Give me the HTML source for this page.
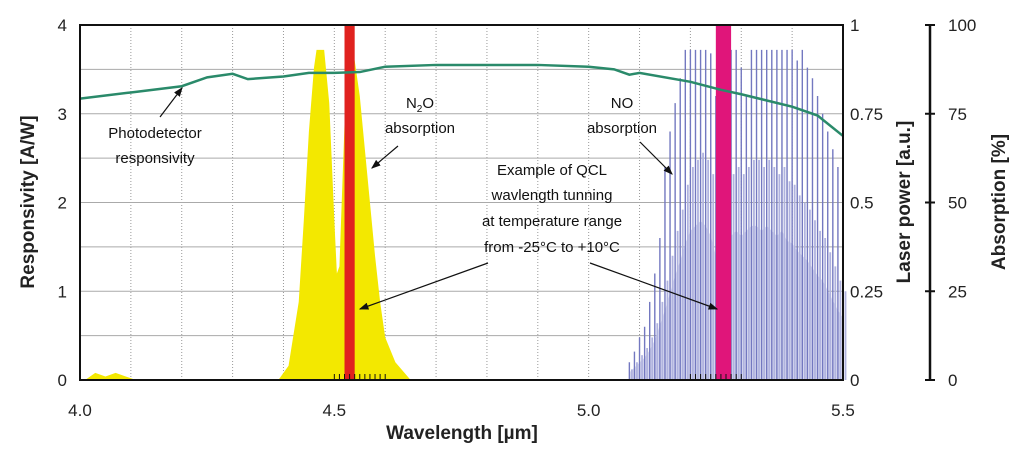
<!DOCTYPE html>
<html><head><meta charset="utf-8"><style>
html,body{margin:0;padding:0;background:#fff;}
svg{display:block;font-family:"Liberation Sans",Arial,sans-serif;}
</style></head><body>
<svg id="chart" width="1024" height="453" viewBox="0 0 1024 453">
<g id="grid"></g>
<g id="marks"></g>
<g id="axes"></g>
<g id="notes" font-size="15" fill="#111" text-anchor="middle">
  <text x="155" y="138">Photodetector</text>
  <text x="155" y="163">responsivity</text>
  <text x="420" y="108">N<tspan font-size="10" dy="4">2</tspan><tspan dy="-4">O</tspan></text>
  <text x="420" y="133">absorption</text>
  <text x="622" y="108">NO</text>
  <text x="622" y="133">absorption</text>
  <text x="552" y="175">Example of QCL</text>
  <text x="552" y="200">wavlength tunning</text>
  <text x="552" y="226">at temperature range</text>
  <text x="552" y="252">from -25°C to +10°C</text>
</g>
</svg>
<script>
const respWl = [4.0,4.1,4.2,4.25,4.3,4.33,4.4,4.45,4.5,4.55,4.6,4.7,4.8,4.9,5.0,5.05,5.08,5.1,5.2,5.26,5.3,5.4,5.45,5.5];
const respVal = [3.17,3.24,3.31,3.41,3.45,3.39,3.42,3.46,3.46,3.47,3.53,3.55,3.55,3.55,3.53,3.5,3.44,3.46,3.36,3.27,3.22,3.08,2.98,2.75];
const n2oWl = [4.39,4.41,4.43,4.44,4.45,4.46,4.465,4.48,4.49,4.50,4.505,4.51,4.52,4.525,4.54,4.55,4.56,4.57,4.58,4.59,4.60,4.62,4.65];
const n2oAbs = [0,4,22,45,70,88,93,93,78,45,30,32,72,93,90,80,65,50,35,22,12,5,0];
const n2oSmallWl = [4.01,4.03,4.05,4.07,4.09,4.11];
const n2oSmallAbs = [0,2,1,2,1,0];
const noStart = 5.08, noStep = 0.01;
const noAbs = [5,8,12,15,22,30,40,60,70,78,85,93,93,93,93,93,92,80,70,60,93,93,88,80,93,93,93,93,93,93,93,93,93,90,93,88,85,80,75,70,65,60,55];
const noMinor = [3,5,7,9,12,16,22,28,35,42,48,55,60,62,64,62,58,50,45,50,58,60,58,60,62,62,60,62,60,58,60,56,55,52,50,48,45,42,40,36,32,28,25];
const xTicks = [4.0,4.5,5.0,5.5];
const xTickLabels = ["4.0","4.5","5.0","5.5"];
const yTicks = [0,1,2,3,4];
const powTicks = ["0","0.25","0.5","0.75","1"];
const absTicks = [0,25,50,75,100];
const laserBands = [[4.52,4.54,"#e0221f"],[5.25,5.28,"#e0157a"]];

const L=80,R=843,T=25,B=380;
const NS="http://www.w3.org/2000/svg";
const xs=w=>L+(w-4.0)/1.5*(R-L);
const yr=v=>B-v/4*(B-T);
const ya=v=>B-v/100*(B-T);
function mk(p,tag,at){const e=document.createElementNS(NS,tag);for(const k in at)e.setAttribute(k,at[k]);p.appendChild(e);return e;}
const grid=document.getElementById('grid'),marks=document.getElementById('marks'),axes=document.getElementById('axes');

for(let i=1;i<15;i++){const x=xs(4+i*0.1);const g=mk(grid,'line',{x1:x,y1:T,x2:x,y2:B,stroke:'#999','stroke-width':1,'stroke-dasharray':'1,2'});

}
for(let i=1;i<8;i++){const y=yr(i*0.5);const g=mk(grid,'line',{x1:L,y1:y,x2:R,y2:y,stroke:'#aaa','stroke-width':1});

}

function poly(wl,ab,fill,name){let d='M'+xs(wl[0])+','+ya(0);wl.forEach((w,i)=>d+=' L'+xs(w)+','+ya(ab[i]));d+=' L'+xs(wl[wl.length-1])+','+ya(0)+'Z';
const p=mk(marks,'path',{d:d,fill:fill});

}
poly(n2oWl,n2oAbs,'#f3e800','n2o-absorption');
poly(n2oSmallWl,n2oSmallAbs,'#f3e800','n2o-absorption-small');

let env='M'+xs(noStart)+','+ya(0);
noMinor.forEach((v,i)=>env+=' L'+xs(noStart+i*noStep)+','+ya(v*0.7));
env+=' L'+xs(noStart+(noMinor.length-1)*noStep)+','+ya(0)+'Z';
const ep=mk(marks,'path',{d:env,fill:'#d8daf0'});


noMinor.forEach((v,i)=>{const x=xs(noStart+i*noStep)+2.5;
const l2=mk(marks,'line',{x1:x,y1:ya(0),x2:x,y2:ya(v),stroke:'#b0b3df','stroke-width':1.8});

});
noAbs.forEach((v,i)=>{const x=xs(noStart+i*noStep);
const l=mk(marks,'line',{x1:x,y1:ya(0),x2:x,y2:ya(v),stroke:'#7378c0','stroke-width':1.4});

});

laserBands.forEach(b=>{const r=mk(marks,'rect',{x:xs(b[0]),y:T,width:xs(b[1])-xs(b[0]),height:B-T,fill:b[2]});

});

let d='';respWl.forEach((w,i)=>d+=(i?' L':'M')+xs(w)+','+yr(respVal[i]));
const rp=mk(marks,'path',{d:d,fill:'none',stroke:'#2a8a6a','stroke-width':2.5});



for(let i=0;i<=10;i++){[4.5,5.2].forEach(s=>{const x=xs(s+i*0.01);const t=mk(axes,'line',{x1:x,y1:B-6,x2:x,y2:B,stroke:'#111','stroke-width':1});

});}

const frame=mk(axes,'rect',{x:L,y:T,width:R-L,height:B-T,fill:'none',stroke:'#111','stroke-width':2});



xTicks.forEach((t,i)=>{const e=mk(axes,'text',{x:xs(t),y:416,'font-size':17,'text-anchor':'middle',fill:'#222'});e.textContent=xTickLabels[i];

});
yTicks.forEach(t=>{const e=mk(axes,'text',{x:67,y:yr(t)+6,'font-size':17,'text-anchor':'end',fill:'#222'});e.textContent=t;

});
powTicks.forEach((t,i)=>{const e=mk(axes,'text',{x:850,y:B-i*(B-T)/4+6,'font-size':17,fill:'#222'});e.textContent=t;

});
const ax2=mk(axes,'line',{x1:930,y1:T,x2:930,y2:B,stroke:'#111','stroke-width':2.5});


absTicks.forEach(t=>{const y=ya(t);const tk=mk(axes,'line',{x1:925,y1:y,x2:935,y2:y,stroke:'#111','stroke-width':2});


const e=mk(axes,'text',{x:948,y:y+6,'font-size':17,fill:'#222'});e.textContent=t;

});

function title(txt,x,y,rot,name){const e=mk(axes,'text',{x:x,y:y,'font-size':19,'font-weight':'bold','text-anchor':'middle',fill:'#222',transform:rot?`rotate(-90 ${x} ${y})`:''});e.textContent=txt;

}
title('Wavelength [µm]',462,439,false,'x-axis-title');
title('Responsivity [A/W]',34,202,true,'y-axis-title');
title('Laser power [a.u.]',910,202,true,'laser-power-axis-title');
title('Absorption [%]',1005,202,true,'absorption-axis-title');

const notes=document.getElementById('notes');
const defs=mk(document.getElementById('chart'),'defs',{});
const m=mk(defs,'marker',{id:'ah',markerWidth:8,markerHeight:8,refX:7,refY:4,orient:'auto'});
mk(m,'path',{d:'M0,1 L8,4 L0,7 Z',fill:'#111'});
[[160,117,182,88],[398,146,372,168],[640,142,672,174],[488,263,360,309],[590,263,717,309]].forEach(a=>{
const l=mk(notes,'line',{x1:a[0],y1:a[1],x2:a[2],y2:a[3],stroke:'#111','stroke-width':1.2,'marker-end':'url(#ah)'});

});
</script>
</body></html>
